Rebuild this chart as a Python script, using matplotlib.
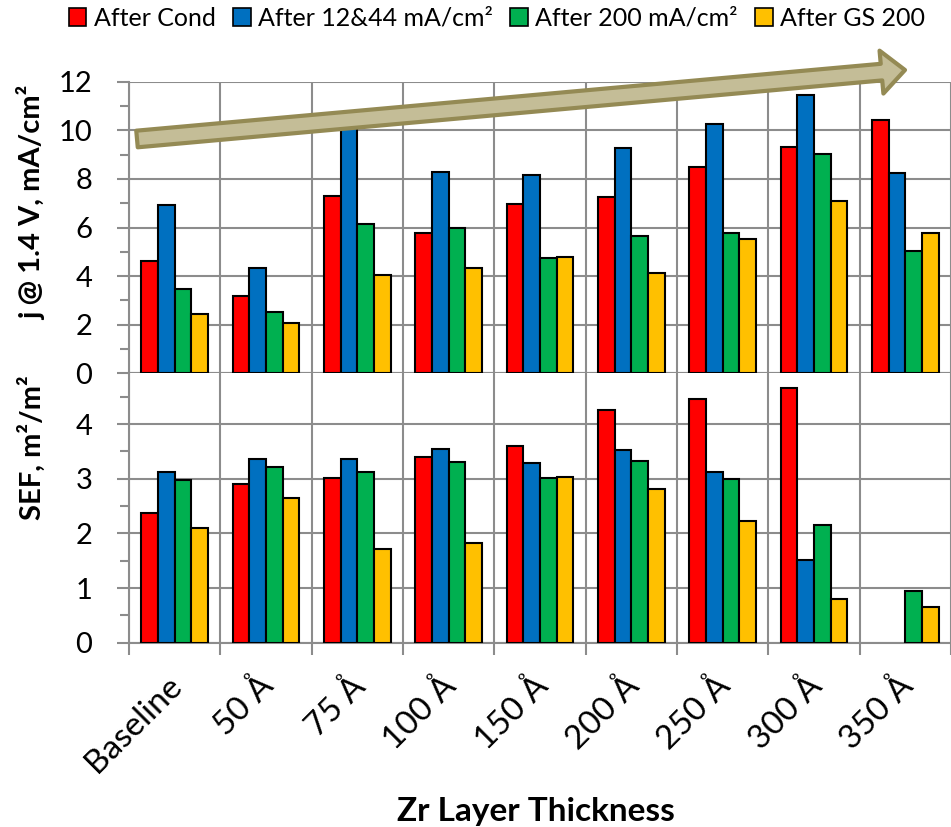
import numpy as np
import matplotlib
matplotlib.use("Agg")
import matplotlib.pyplot as plt
from matplotlib import rcParams
from matplotlib.patches import Patch, FancyArrowPatch
from matplotlib.transforms import ScaledTranslation

rcParams["font.family"] = ["Lato", "DejaVu Sans"]

categories = ["Baseline", "50 Å", "75 Å", "100 Å", "150 Å",
              "200 Å", "250 Å", "300 Å", "350 Å"]
series = ["After Cond", "After 12&44 mA/cm²", "After 200 mA/cm²", "After GS 200"]
colors = ["#FF0000", "#0070C0", "#00B050", "#FFC000"]

# current density at 1.4 V, mA/cm2
j_cond = [4.62, 3.19, 7.30, 5.77, 6.97, 7.27, 8.48, 9.31, 10.43]
j_1244 = [6.93, 4.32, 10.4, 8.27, 8.16, 9.26, 10.27, 11.44, 8.26]
j_200 = [3.46, 2.51, 6.14, 5.97, 4.76, 5.65, 5.79, 9.03, 5.02]
j_gs = [2.43, 2.06, 4.05, 4.35, 4.80, 4.14, 5.53, 7.09, 5.79]

# surface enhancement factor, m2/m2 (no data for 350 A after cond / 12&44)
sef_cond = [2.38, 2.91, 3.02, 3.39, 3.60, 4.25, 4.46, 4.66, np.nan]
sef_1244 = [3.12, 3.36, 3.36, 3.54, 3.28, 3.52, 3.13, 1.51, np.nan]
sef_200 = [2.97, 3.22, 3.12, 3.30, 3.01, 3.33, 3.00, 2.15, 0.95]
sef_gs = [2.09, 2.65, 1.72, 1.83, 3.04, 2.82, 2.22, 0.80, 0.65]

gray = "#8C8C8C"
fs = 21
w = 0.182
x = np.arange(len(categories))

fig = plt.figure(figsize=(9.51, 8.27), dpi=100)
ax1 = fig.add_axes([0.1356, 0.5486, 0.8644, 0.3526])
ax2 = fig.add_axes([0.1356, 0.2229, 0.8644, 0.3257])


def draw(ax, data):
    for k, (vals, c) in enumerate(zip(data, colors)):
        ax.bar(x + (k - 1.5)*w, vals, w, color=c, edgecolor="k",
               linewidth=1.5, zorder=3)
    ax.set_xlim(-0.5, len(categories) - 0.5)
    ax.set_xticks(x)
    ax.set_xticks(np.arange(-0.5, len(categories)), minor=True)
    ax.set_axisbelow(True)
    ax.grid(True, which="minor", axis="x", color=gray, lw=1.5)
    ax.grid(True, which="major", axis="y", color=gray, lw=1.5)
    for s in ["top", "right"]:
        ax.spines[s].set_visible(False)
    for s in ["left", "bottom"]:
        ax.spines[s].set_color(gray)
        ax.spines[s].set_linewidth(1.5)
    ax.tick_params(axis="y", which="major", length=8.5, width=1.5,
                   color=gray, labelsize=fs, pad=18)
    ax.tick_params(axis="y", which="minor", length=6.5, width=1.5, color=gray)
    ax.tick_params(axis="x", which="major", length=0)


draw(ax1, [j_cond, j_1244, j_200, j_gs])
ax1.set_ylim(0, 12)
ax1.set_yticks(np.arange(0, 13, 2))
ax1.set_yticks(np.arange(1, 12, 2), minor=True)
ax1.tick_params(axis="x", which="both", length=0, labelbottom=False)

draw(ax2, [sef_cond, sef_1244, sef_200, sef_gs])
ax2.set_ylim(0, 4.93)
ax2.set_yticks(np.arange(0, 5, 1))
ax2.set_yticks(np.arange(0.5, 4.6, 1), minor=True)
ax2.tick_params(axis="x", which="minor", length=8.5, width=1.5,
                color=gray, direction="out")
ax2.set_xticklabels(categories, rotation=45, ha="right", va="top",
                    rotation_mode="anchor", fontsize=24)
ax2.tick_params(axis="x", which="major", pad=20)
shift = ScaledTranslation(-8/100, 0, fig.dpi_scale_trans)
for lbl in ax2.get_xticklabels():
    lbl.set_transform(lbl.get_transform() + shift)

fig.text(32/951, 1 - 203/827, "j @ 1.4 V, mA/cm²", rotation=90,
         ha="center", va="center", fontsize=fs, fontweight="bold")
fig.text(32/951, 1 - 448/827, "SEF, m²/m²", rotation=90,
         ha="center", va="center", fontsize=fs, fontweight="bold")
fig.text(536/951, 1 - 812/827, "Zr Layer Thickness",
         ha="center", va="center", fontsize=24, fontweight="bold")

# trend arrow across the top panel
arrow = FancyArrowPatch((137/951, 1 - 139/827), (905/951, 1 - 70/827),
                        transform=fig.transFigure,
                        arrowstyle="simple,head_length=17,head_width=31,tail_width=12",
                        mutation_scale=1, fc="#C4BD97", ec="#948A54", lw=3,
                        shrinkA=0, shrinkB=0, zorder=10)
fig.add_artist(arrow)

handles = [Patch(fc=c, ec="k", lw=1.2) for c in colors]
fig.legend(handles, series, loc="center", bbox_to_anchor=(497/951, 1 - 18/827),
           ncol=4, frameon=False, fontsize=18, handlelength=0.7,
           handleheight=0.7, handletextpad=0.3, columnspacing=0.7,
           borderaxespad=0, borderpad=0)

plt.savefig("out.png", dpi=100)
